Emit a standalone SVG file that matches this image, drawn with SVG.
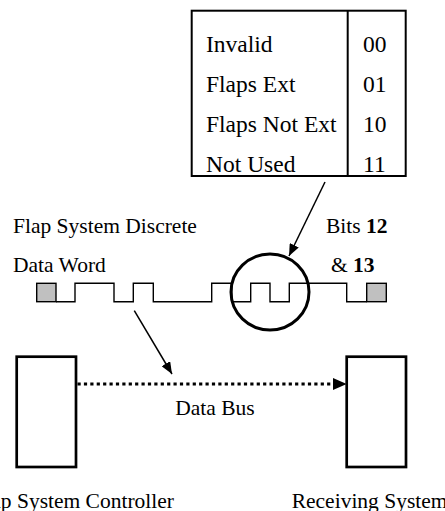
<svg xmlns="http://www.w3.org/2000/svg" width="445" height="511" viewBox="0 0 445 511">
<style>
text{font-family:"Liberation Serif","Times New Roman",serif;fill:#000}
.t{font-size:23.5px}
.l{font-size:21.5px}
.box{fill:#fff;stroke:#000;stroke-width:2.7}
.wave{fill:none;stroke:#000;stroke-width:1.4}
.sq{fill:#c0c0c0;stroke:#000;stroke-width:1.4}
.arr{stroke:#000;stroke-width:1.5;fill:none}
</style>
<defs>
<marker id="ah" markerWidth="12" markerHeight="10" refX="12" refY="5" orient="auto" markerUnits="userSpaceOnUse">
<path d="M0,0 L12,5 L0,10 z" fill="#000"/>
</marker>
<marker id="ah2" markerWidth="14" markerHeight="12" refX="14" refY="6" orient="auto" markerUnits="userSpaceOnUse">
<path d="M0,0 L14,6 L0,12 z" fill="#000"/>
</marker>
</defs>
<g id="table">
<rect x="191.7" y="10.7" width="214" height="165.3" fill="#fff" stroke="#000" stroke-width="2"/>
<line x1="347.7" y1="10.7" x2="347.7" y2="176" stroke="#000" stroke-width="2"/>
<text class="t" x="206" y="52">Invalid</text>
<text class="t" x="206" y="92">Flaps Ext</text>
<text class="t" x="206" y="132">Flaps Not Ext</text>
<text class="t" x="206" y="172">Not Used</text>
<text class="t" x="363" y="52">00</text>
<text class="t" x="363" y="92">01</text>
<text class="t" x="363" y="132">10</text>
<text class="t" x="363" y="172">11</text>
</g>
<g id="word">
<text class="l" x="13" y="233">Flap System Discrete</text>
<text class="l" x="13" y="272">Data Word</text>
<text class="l" x="326" y="233">Bits <tspan font-weight="bold">12</tspan></text>
<text class="l" x="331" y="272">&amp; <tspan font-weight="bold">13</tspan></text>
<rect class="sq" x="36.7" y="283.3" width="19.3" height="18.4"/>
<rect class="sq" x="366.7" y="283.3" width="19.6" height="18.4"/>
<path class="wave" d="M56,301.7 H75 V283.3 H114 V301.7 H133.3 V283.3 H153.3 V301.7 H211.7 V283.3 H231.7 V301.7 H250.7 V283.3 H270 V301.7 H289.3 V283.3 H346.7 V301.7 H366.7"/>
<ellipse id="bits" cx="270" cy="292" rx="39" ry="38" fill="none" stroke="#000" stroke-width="3"/>
</g>
<g id="controller">
<rect class="box" x="16.7" y="356.7" width="59.3" height="110.3"/>
<text class="l" x="174" y="508" text-anchor="end">Flap System Controller</text>
</g>
<g id="receiver">
<rect class="box" x="346.7" y="356.7" width="59.3" height="110.3"/>
<text class="l" x="291.7" y="508">Receiving System</text>
</g>
<g id="connectors">
<line class="arr" x1="325" y1="182" x2="289" y2="256" marker-end="url(#ah)"/>
<line class="arr" x1="134.3" y1="310.7" x2="172" y2="374" marker-end="url(#ah)"/>
<line x1="77.5" y1="384" x2="334" y2="384" stroke="#000" stroke-width="3.2" stroke-dasharray="3.2 3.2"/>
<path d="M333,378 L346.7,384 L333,390 z" fill="#000"/>
<text class="l" x="215" y="415" text-anchor="middle">Data Bus</text>
</g>
</svg>
